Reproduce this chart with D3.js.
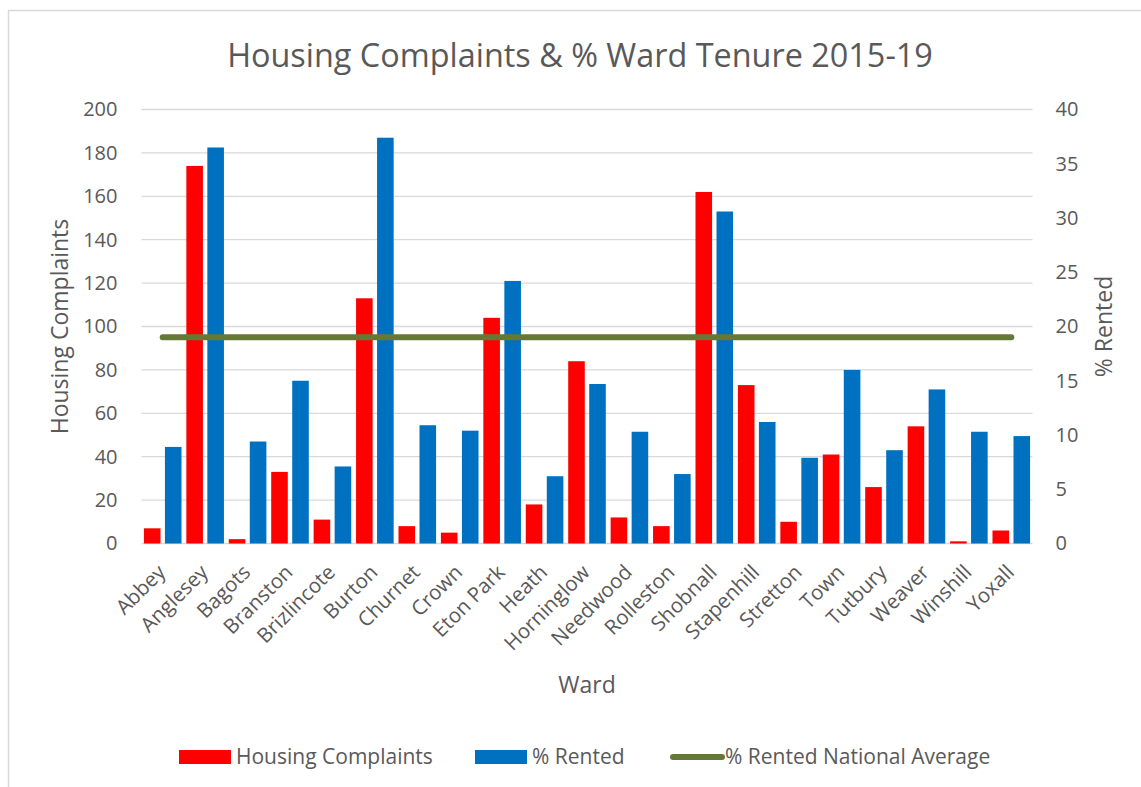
<!DOCTYPE html>
<html>
<head>
<meta charset="utf-8">
<script src="https://cdn.jsdelivr.net/npm/d3@7"></script>
<style>
  body { margin: 0; background: #fff; }
  text { font-family: "Open Sans", sans-serif; fill: #595959; }
</style>
</head>
<body>
<div id="chart"></div>
<script>
// ward data
var wards = ["Abbey", "Anglesey", "Bagots", "Branston", "Brizlincote", "Burton", "Churnet",
  "Crown", "Eton Park", "Heath", "Horninglow", "Needwood", "Rolleston", "Shobnall",
  "Stapenhill", "Stretton", "Town", "Tutbury", "Weaver", "Winshill", "Yoxall"];
var complaints = [7, 174, 2, 33, 11, 113, 8, 5, 104, 18, 84, 12, 8, 162, 73, 10, 41, 26, 54, 1, 6];
var rented = [8.9, 36.5, 9.4, 15.0, 7.1, 37.4, 10.9, 10.4, 24.2, 6.2, 14.7, 10.3, 6.4, 30.6,
  11.2, 7.9, 16.0, 8.6, 14.2, 10.3, 9.9];
var nationalAvg = 19;
var leftTicks = [0, 20, 40, 60, 80, 100, 120, 140, 160, 180, 200];
var rightTicks = [0, 5, 10, 15, 20, 25, 30, 35, 40];

var width = 1141, height = 787;
var margin = {top: 109.5, right: 108.5, bottom: 243.5, left: 141.5};

var svg = d3.select("#chart").append("svg")
    .attr("width", width)
    .attr("height", height);

// chart frame
svg.append("rect")
    .attr("x", 8.5).attr("y", 10.5)
    .attr("width", width + 20).attr("height", height + 20)
    .attr("fill", "none")
    .attr("stroke", "#d9d9d9")
    .attr("stroke-width", 1.5);

var x = d3.scaleBand()
    .domain(wards)
    .range([margin.left, width - margin.right]);

var sub = d3.scaleBand()
    .domain(["complaints", "rented"])
    .range([0, x.bandwidth()])
    .paddingInner(0.21)
    .paddingOuter(0.115);

var yL = d3.scaleLinear().domain([0, 200]).range([height - margin.bottom, margin.top]);
var yR = d3.scaleLinear().domain([0, 40]).range([height - margin.bottom, margin.top]);

// gridlines
svg.append("g")
    .selectAll("line")
    .data(leftTicks)
    .enter().append("line")
    .attr("x1", margin.left)
    .attr("x2", width - margin.right)
    .attr("y1", d => yL(d))
    .attr("y2", d => yL(d))
    .attr("stroke", "#d9d9d9")
    .attr("stroke-width", 1.3);

// left axis
var leftAxis = d3.axisLeft(yL).tickValues(leftTicks).tickSize(0).tickPadding(24);
svg.append("g")
    .attr("transform", `translate(${margin.left},0)`)
    .call(leftAxis)
    .call(g => g.select(".domain").remove())
    .selectAll("text")
    .style("font-size", "20px")
    .attr("fill", "#595959");

// right axis
var rightAxis = d3.axisRight(yR).tickValues(rightTicks).tickSize(0).tickPadding(23);
svg.append("g")
    .attr("transform", `translate(${width - margin.right},0)`)
    .call(rightAxis)
    .call(g => g.select(".domain").remove())
    .selectAll("text")
    .style("font-size", "20px")
    .attr("fill", "#595959");

// bars
var rows = wards.map((w, i) => ({ward: w, complaints: complaints[i], rented: rented[i]}));

svg.append("g").selectAll("rect.complaints")
    .data(rows)
    .enter().append("rect")
    .attr("class", "complaints")
    .attr("x", d => x(d.ward) + sub("complaints"))
    .attr("width", sub.bandwidth())
    .attr("y", d => yL(d.complaints))
    .attr("height", d => yL(0) - yL(d.complaints))
    .style("fill", "#ff0000");

svg.append("g").selectAll("rect.rented")
    .data(rows)
    .enter().append("rect")
    .attr("class", "rented")
    .attr("x", d => x(d.ward) + sub("rented"))
    .attr("width", sub.bandwidth())
    .attr("y", d => yR(d.rented))
    .attr("height", d => yR(0) - yR(d.rented))
    .style("fill", "#0070c0");

// national average line
var avgLine = d3.line()
    .x(d => x(d) + x.bandwidth() / 2)
    .y(() => yR(nationalAvg));

svg.append("path")
    .datum(wards)
    .attr("d", avgLine)
    .attr("fill", "none")
    .attr("stroke", "#667934")
    .attr("stroke-width", 6)
    .attr("stroke-linecap", "round");

// x labels
svg.append("g").selectAll("text.wardLabel")
    .data(wards)
    .enter().append("text")
    .attr("class", "wardLabel")
    .attr("transform", d => `translate(${x(d) + x.bandwidth() / 2 + 4},${yL(0) + 30}) rotate(-45)`)
    .style("text-anchor", "end")
    .style("font-size", "20.5px")
    .text(d => d);

// title
svg.append("text")
    .attr("x", 580)
    .attr("y", 67)
    .style("text-anchor", "middle")
    .style("font-size", "32.4px")
    .text("Housing Complaints & % Ward Tenure 2015-19");

// axis titles
svg.append("text")
    .attr("transform", `translate(68,${(yL(0) + yL(200)) / 2}) rotate(-90)`)
    .style("text-anchor", "middle")
    .style("font-size", "23px")
    .text("Housing Complaints");

svg.append("text")
    .attr("transform", `translate(1112,${(yR(0) + yR(40)) / 2}) rotate(-90)`)
    .style("text-anchor", "middle")
    .style("font-size", "23px")
    .text("% Rented");

svg.append("text")
    .attr("x", (x.range()[0] + x.range()[1]) / 2)
    .attr("y", 693)
    .style("text-anchor", "middle")
    .style("font-size", "23px")
    .text("Ward");

// legend
var legendItems = [
  {label: "Housing Complaints", type: "bar", color: "#ff0000", x: 179},
  {label: "% Rented", type: "bar", color: "#0070c0", x: 475},
  {label: "% Rented National Average", type: "line", color: "#667934", x: 670}
];

var legend = svg.append("g").selectAll("g")
    .data(legendItems)
    .enter().append("g")
    .attr("transform", d => `translate(${d.x},757)`);

legend.filter(d => d.type === "bar").append("rect")
    .attr("x", 0).attr("y", -7)
    .attr("width", 52).attr("height", 14)
    .attr("fill", d => d.color);

legend.filter(d => d.type === "line").append("line")
    .attr("x1", 3).attr("x2", 52)
    .attr("y1", 0).attr("y2", 0)
    .attr("stroke", d => d.color)
    .attr("stroke-width", 6)
    .attr("stroke-linecap", "round");

legend.append("text")
    .attr("x", d => d.type === "bar" ? 57 : 55)
    .attr("y", 7)
    .style("font-size", "21px")
    .text(d => d.label);
</script>
</body>
</html>
